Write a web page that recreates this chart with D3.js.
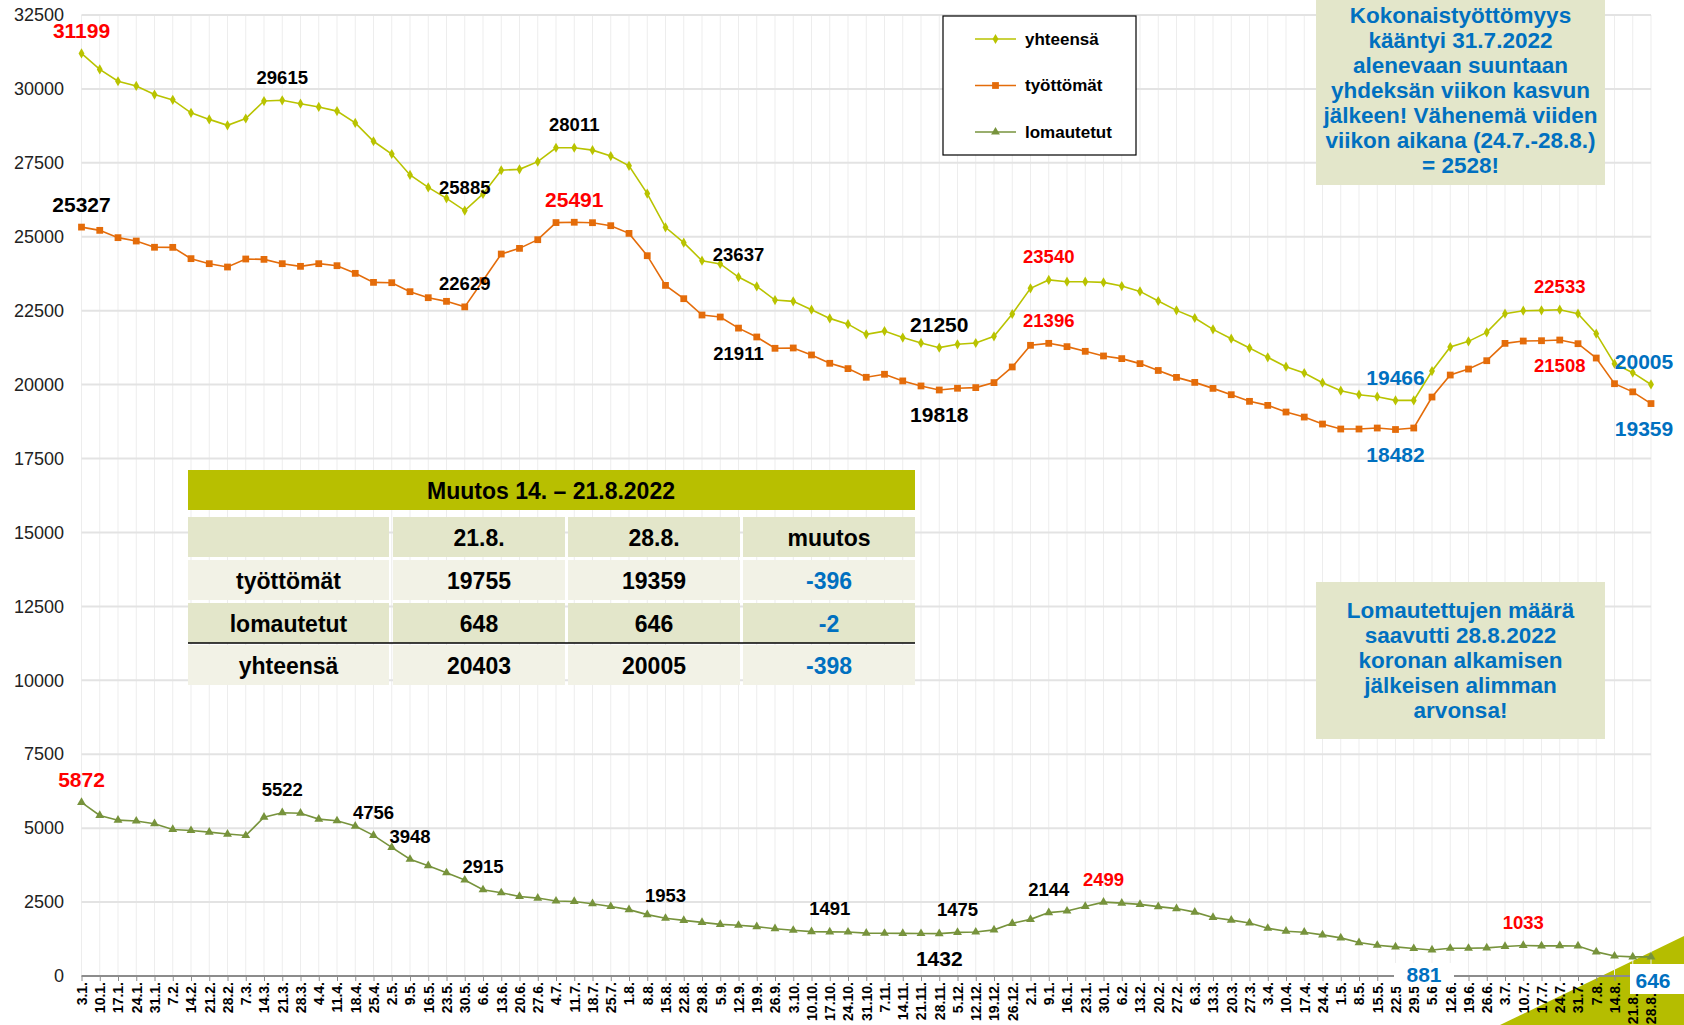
<!DOCTYPE html>
<html>
<head>
<meta charset="utf-8">
<script src="https://cdn.jsdelivr.net/npm/d3@7/dist/d3.min.js"></script>
<style>
  body { margin: 0; background: #fff; }
  svg { display: block; font-family: "Liberation Sans", Arial, sans-serif; }
</style>
</head>
<body>
<svg id="chart" width="1684" height="1025"></svg>
<script>
// weekly dates 3.1.2021 - 28.8.2022
var weeks = ['3.1.','10.1.','17.1.','24.1.','31.1.','7.2.','14.2.','21.2.','28.2.','7.3.','14.3.','21.3.','28.3.',
  '4.4.','11.4.','18.4.','25.4.','2.5.','9.5.','16.5.','23.5.','30.5.','6.6.','13.6.','20.6.','27.6.','4.7.','11.7.',
  '18.7.','25.7.','1.8.','8.8.','15.8.','22.8.','29.8.','5.9.','12.9.','19.9.','26.9.','3.10.','10.10.','17.10.',
  '24.10.','31.10.','7.11.','14.11.','21.11.','28.11.','5.12.','12.12.','19.12.','26.12.',
  '2.1.','9.1.','16.1.','23.1.','30.1.','6.2.','13.2.','20.2.','27.2.','6.3.','13.3.','20.3.','27.3.','3.4.',
  '10.4.','17.4.','24.4.','1.5.','8.5.','15.5.','22.5.','29.5.','5.6.','12.6.','19.6.','26.6.','3.7.','10.7.',
  '17.7.','24.7.','31.7.','7.8.','14.8.','21.8.','28.8.'];

var yhteensa = [31199,30660,30260,30100,29810,29630,29190,28970,28770,29000,29590,29615,29500,29390,29250,28850,
  28230,27800,27090,26670,26300,25885,26450,27250,27280,27540,28010,28011,27930,27730,27400,26460,25320,24800,
  24190,24080,23637,23320,22860,22816,22534,22240,22045,21700,21810,21590,21410,21250,21363,21408,21633,22388,
  23255,23540,23480,23480,23457,23334,23153,22827,22511,22252,21869,21553,21237,20922,20606,20392,20065,19794,
  19659,19591,19466,19467,20459,21271,21463,21767,22399,22500,22511,22533,22399,21722,20707,20403,20005];

var tyottomat = [25327,25217,24970,24856,24645,24642,24260,24090,23977,24248,24236,24090,24000,24090,24022,23763,
  23458,23447,23143,22940,22816,22629,23520,24416,24608,24901,25480,25491,25476,25375,25115,24360,23356,22906,
  22354,22286,21911,21611,21228,21239,21003,20721,20541,20248,20350,20125,19955,19818,19877,19899,20068,20597,
  21329,21396,21284,21126,20969,20879,20710,20478,20245,20076,19873,19659,19434,19298,19073,18903,18667,18498,
  18498,18532,18482,18532,19580,20324,20527,20809,21395,21474,21485,21508,21384,20899,20031,19755,19359];

var lomautetut = [5872,5430,5270,5240,5150,4955,4920,4865,4800,4750,5370,5522,5505,5305,5250,5070,4756,4350,3948,
  3730,3490,3245,2915,2815,2690,2635,2535,2520,2445,2350,2245,2075,1953,1880,1815,1745,1715,1670,1600,1545,1500,
  1491,1486,1450,1445,1440,1436,1432,1475,1486,1560,1780,1915,2144,2196,2353,2499,2466,2421,2345,2280,2160,1980,
  1890,1795,1615,1515,1480,1390,1290,1130,1040,985,930,881,937,937,950,1000,1033,1020,1025,1015,815,675,648,646];

var yTicks = [0,2500,5000,7500,10000,12500,15000,17500,20000,22500,25000,27500,30000,32500];

var tableHead = ['', '21.8.', '28.8.', 'muutos'];
var tableRows = [
  ['työttömät', '19755', '19359', '-396'],
  ['lomautetut', '648', '646', '-2'],
  ['yhteensä', '20403', '20005', '-398']
];

var note1 = ['Kokonaistyöttömyys', 'kääntyi 31.7.2022', 'alenevaan suuntaan', 'yhdeksän viikon kasvun',
  'jälkeen! Vähenemä viiden', 'viikon aikana (24.7.-28.8.)', '= 2528!'];
var note2 = ['Lomautettujen määrä', 'saavutti 28.8.2022', 'koronan alkamisen', 'jälkeisen alimman', 'arvonsa!'];

var RED = '#ff0000', BLUE = '#0070c0', BLACK = '#000';

var series = [
  { key: 'yhteensa', name: 'yhteensä', values: yhteensa, color: '#b9c300', symbol: d3.symbolDiamond, size: 30 },
  { key: 'tyottomat', name: 'työttömät', values: tyottomat, color: '#e46c0a', symbol: d3.symbolSquare, size: 46 },
  { key: 'lomautetut', name: 'lomautetut', values: lomautetut, color: '#77933c', symbol: d3.symbolTriangle, size: 34 }
];

// which points get a value label
var labels = [
  { s: 'yhteensa', i: 0, color: RED, big: true, pos: 'above' },
  { s: 'yhteensa', i: 11, color: BLACK, pos: 'above' },
  { s: 'yhteensa', i: 21, color: BLACK, pos: 'above' },
  { s: 'yhteensa', i: 27, color: BLACK, pos: 'above' },
  { s: 'yhteensa', i: 36, color: BLACK, pos: 'above' },
  { s: 'yhteensa', i: 47, color: BLACK, big: true, pos: 'above' },
  { s: 'yhteensa', i: 53, color: RED, pos: 'above' },
  { s: 'yhteensa', i: 72, color: BLUE, big: true, pos: 'above' },
  { s: 'yhteensa', i: 81, color: RED, pos: 'above' },
  { s: 'yhteensa', i: 86, color: BLUE, big: true, pos: 'above', dx: -7 },
  { s: 'tyottomat', i: 0, color: BLACK, big: true, pos: 'above' },
  { s: 'tyottomat', i: 21, color: BLACK, pos: 'above' },
  { s: 'tyottomat', i: 27, color: RED, big: true, pos: 'above' },
  { s: 'tyottomat', i: 36, color: BLACK, pos: 'below' },
  { s: 'tyottomat', i: 47, color: BLACK, big: true, pos: 'below' },
  { s: 'tyottomat', i: 53, color: RED, pos: 'above' },
  { s: 'tyottomat', i: 72, color: BLUE, big: true, pos: 'below' },
  { s: 'tyottomat', i: 81, color: RED, pos: 'below' },
  { s: 'tyottomat', i: 86, color: BLUE, big: true, pos: 'below', dx: -7 },
  { s: 'lomautetut', i: 0, color: RED, big: true, pos: 'above' },
  { s: 'lomautetut', i: 11, color: BLACK, pos: 'above' },
  { s: 'lomautetut', i: 16, color: BLACK, pos: 'above' },
  { s: 'lomautetut', i: 18, color: BLACK, pos: 'above' },
  { s: 'lomautetut', i: 22, color: BLACK, pos: 'above' },
  { s: 'lomautetut', i: 32, color: BLACK, pos: 'above' },
  { s: 'lomautetut', i: 41, color: BLACK, pos: 'above' },
  { s: 'lomautetut', i: 47, color: BLACK, big: true, pos: 'below' },
  { s: 'lomautetut', i: 48, color: BLACK, pos: 'above' },
  { s: 'lomautetut', i: 53, color: BLACK, pos: 'above' },
  { s: 'lomautetut', i: 56, color: RED, pos: 'above' },
  { s: 'lomautetut', i: 74, color: BLUE, big: true, pos: 'below', dx: -8, bg: true },
  { s: 'lomautetut', i: 79, color: RED, pos: 'above' },
  { s: 'lomautetut', i: 86, color: BLUE, big: true, pos: 'below', box: true }
];

var svg = d3.select('#chart');
var plotLeft = 81.5, plotRight = 1651, plotTop = 15, plotBottom = 976;

var x = d3.scalePoint().domain(d3.range(weeks.length)).range([plotLeft, plotRight]);
var y = d3.scaleLinear().domain([0, 32500]).range([plotBottom, plotTop]);

// decorative corner triangle
svg.append('path')
  .attr('d', 'M1500,1025 L1684,936 L1684,1025 Z')
  .attr('fill', '#b5bd00');

// grid
svg.append('g').selectAll('line').data(d3.range(weeks.length)).enter().append('line')
  .attr('x1', function(i) { return x(i); }).attr('x2', function(i) { return x(i); })
  .attr('y1', plotTop).attr('y2', plotBottom)
  .attr('stroke', '#ededed').attr('stroke-width', 1);

svg.append('g').selectAll('line').data(yTicks.slice(1)).enter().append('line')
  .attr('x1', plotLeft).attr('x2', plotRight)
  .attr('y1', function(d) { return y(d); }).attr('y2', function(d) { return y(d); })
  .attr('stroke', '#e3e3e3').attr('stroke-width', 2);

// y axis labels
var yAxis = d3.axisLeft(y).tickValues(yTicks).tickSize(0).tickPadding(0).tickFormat(d3.format('d'));
svg.append('g').attr('transform', 'translate(64,0)').call(yAxis)
  .call(function(g) { g.select('.domain').remove(); })
  .selectAll('text')
  .attr('font-size', 18).attr('fill', '#222').attr('font-family', '"Liberation Sans", Arial, sans-serif');

// x axis
var xAxis = d3.axisBottom(x).tickSize(5).tickFormat(function(i) { return weeks[i]; });
var gx = svg.append('g').attr('transform', 'translate(0,' + plotBottom + ')').call(xAxis);
gx.select('.domain').attr('stroke', '#8c8c8c').attr('stroke-width', 2).attr('d', 'M' + plotLeft + ',0H' + plotRight);
gx.selectAll('.tick line').attr('stroke', '#8c8c8c');
gx.selectAll('.tick text')
  .attr('font-size', 14).attr('font-weight', 'bold').attr('fill', '#000')
  .attr('font-family', '"Liberation Sans", Arial, sans-serif')
  .attr('text-anchor', 'end')
  .attr('transform', 'rotate(-90)')
  .attr('x', function(i) { return i >= weeks.length - 2 ? -17 : -6; })
  .attr('y', 0).attr('dy', '0.35em');

// lines and markers
var line = d3.line().x(function(d, i) { return x(i); }).y(function(d) { return y(d); });

series.forEach(function(s) {
  var g = svg.append('g').attr('class', 'series ' + s.key);
  g.append('path').datum(s.values)
    .attr('d', line).attr('fill', 'none')
    .attr('stroke', s.color).attr('stroke-width', 1.6);
  g.selectAll('path.marker').data(s.values).enter().append('path')
    .attr('class', 'marker')
    .attr('transform', function(d, i) { return 'translate(' + x(i) + ',' + y(d) + ')'; })
    .attr('d', d3.symbol().type(s.symbol).size(s.size))
    .attr('fill', s.color);
});

// value labels
var byKey = {};
series.forEach(function(s) { byKey[s.key] = s; });

labels.forEach(function(l) {
  var v = byKey[l.s].values[l.i];
  var cx = x(l.i) + (l.dx || 0);
  var cy = y(v) + (l.pos === 'above' ? -23 : 25);
  var fs = l.big ? 21 : 18.5;
  if (l.bg) {
    svg.append('rect').attr('x', cx - 30).attr('y', cy - 12).attr('width', 60).attr('height', 24).attr('fill', '#fff');
  }
  if (l.box) {
    svg.append('rect').attr('x', 1630).attr('y', 964).attr('width', 54).attr('height', 30).attr('fill', '#fff');
    cx = 1653; cy = 980;
  }
  svg.append('text')
    .attr('x', cx).attr('y', cy)
    .attr('text-anchor', 'middle').attr('dominant-baseline', 'central')
    .attr('font-size', fs).attr('font-weight', 'bold').attr('fill', l.color)
    .text(v);
});

// legend
var legend = svg.append('g').attr('transform', 'translate(943,16)');
legend.append('rect').attr('width', 193).attr('height', 139)
  .attr('fill', '#fff').attr('stroke', '#000').attr('stroke-width', 1.2);
series.forEach(function(s, k) {
  var ly = 23 + k * 46.5;
  legend.append('line').attr('x1', 32).attr('x2', 73).attr('y1', ly).attr('y2', ly)
    .attr('stroke', s.color).attr('stroke-width', 1.6);
  legend.append('path').attr('transform', 'translate(52.5,' + ly + ')')
    .attr('d', d3.symbol().type(s.symbol).size(s.size)).attr('fill', s.color);
  legend.append('text').attr('x', 82).attr('y', ly).attr('dominant-baseline', 'central')
    .attr('font-size', 17).attr('font-weight', 'bold').attr('fill', '#000').text(s.name);
});

// note boxes
var drawNote = function(lines, bx, by, bw, bh, firstY) {
  var g = svg.append('g');
  g.append('rect').attr('x', bx).attr('y', by).attr('width', bw).attr('height', bh).attr('fill', '#e3e6ca');
  g.selectAll('text').data(lines).enter().append('text')
    .attr('x', bx + bw / 2).attr('y', function(d, k) { return firstY + k * 25; })
    .attr('text-anchor', 'middle').attr('dominant-baseline', 'central')
    .attr('font-size', 22.5).attr('font-weight', 'bold').attr('fill', BLUE)
    .text(function(d) { return d; });
};
drawNote(note1, 1316, 0, 289, 185, 15);
drawNote(note2, 1316, 582, 289, 157, 610);

// change table
var table = svg.append('g');
var colX = [188, 393, 568, 743], colW = [201, 172, 172, 172];
var rowY = [517, 560, 603, 645], rowH = 40;
var rowFill = ['#e3e6ca', '#f2f2e6', '#e3e6ca', '#f2f2e6'];

table.append('rect').attr('x', 188).attr('y', 470).attr('width', 727).attr('height', 40).attr('fill', '#b8bf00');
table.append('text').attr('x', 551).attr('y', 491).attr('text-anchor', 'middle').attr('dominant-baseline', 'central')
  .attr('font-size', 23).attr('font-weight', 'bold').attr('fill', '#000').text('Muutos 14. – 21.8.2022');

[tableHead].concat(tableRows).forEach(function(row, r) {
  row.forEach(function(cell, c) {
    table.append('rect').attr('x', colX[c]).attr('y', rowY[r]).attr('width', colW[c]).attr('height', rowH)
      .attr('fill', rowFill[r]);
    table.append('text').attr('x', colX[c] + colW[c] / 2).attr('y', rowY[r] + rowH / 2 + 1)
      .attr('text-anchor', 'middle').attr('dominant-baseline', 'central')
      .attr('font-size', 23).attr('font-weight', 'bold')
      .attr('fill', (c === 3 && r > 0) ? BLUE : '#000')
      .text(cell);
  });
});
table.append('line').attr('x1', 188).attr('x2', 915).attr('y1', 643).attr('y2', 643)
  .attr('stroke', '#000').attr('stroke-width', 1.5);
</script>
</body>
</html>
